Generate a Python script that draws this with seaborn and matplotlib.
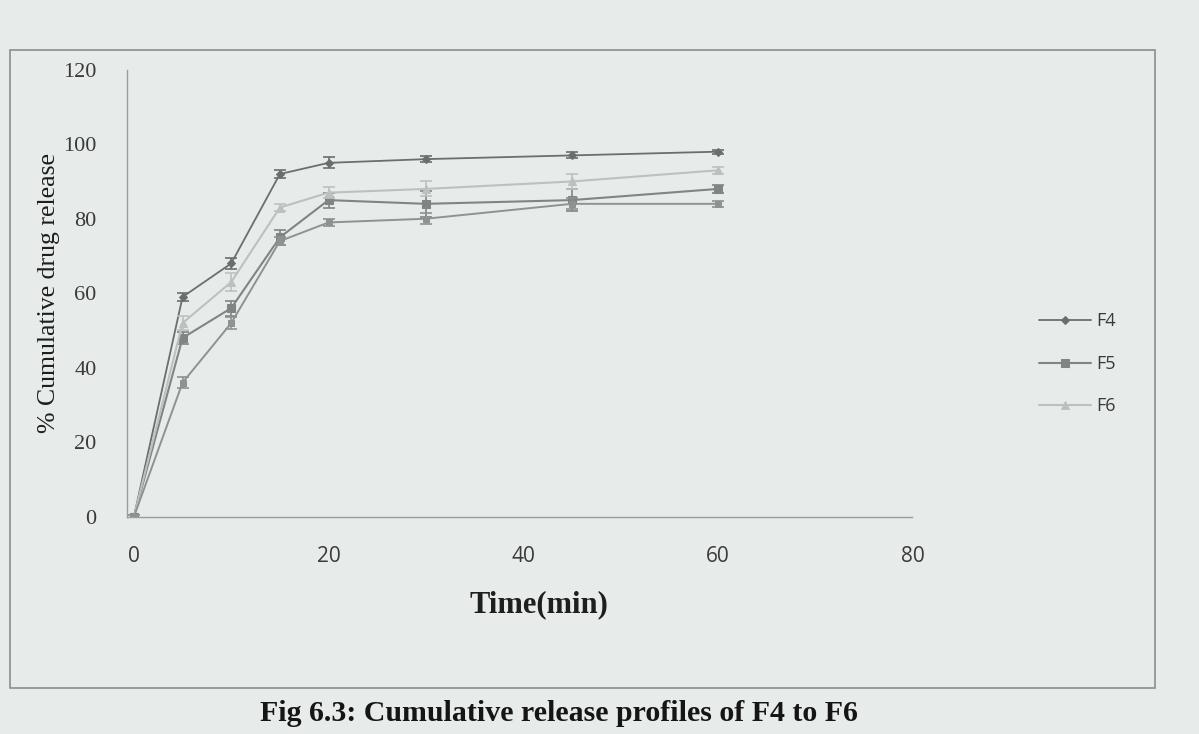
import numpy as np
import pandas as pd
import matplotlib
matplotlib.use("Agg")
import matplotlib.pyplot as plt
import seaborn as sns
from matplotlib.patches import Rectangle

# time points (min) and % cumulative drug release
time_min = [0, 5, 10, 15, 20, 30, 45, 60]
f4 = [0, 59, 68, 92, 95, 96, 97, 98]
f5 = [0, 48, 56, 75, 85, 84, 85, 88]
f6 = [0, 52, 63, 83, 87, 88, 90, 93]
f_low = [0, 36, 52, 74, 79, 80, 84, 84]   # fourth trace, not in the legend

f4_err = [0.5, 1.0, 1.5, 1.0, 1.5, 0.8, 0.8, 0.5]
f5_err = [0.5, 1.5, 2.0, 2.0, 2.0, 3.5, 3.0, 1.0]
f6_err = [0.5, 2.0, 2.5, 1.0, 1.5, 2.0, 2.0, 1.0]
low_err = [0.5, 1.5, 1.5, 1.0, 1.0, 1.5, 1.5, 0.8]

series_names = ["F4", "F5", "F6", "_low"]
x_ticks = [0, 20, 40, 60, 80]
y_ticks = [0, 20, 40, 60, 80, 100, 120]

bg = "#e7ebe9"
sns.set_theme(style="white")
plt.rcParams["font.family"] = ["Liberation Serif", "DejaVu Serif"]

fig = plt.figure(figsize=(11.99, 7.34), dpi=100, facecolor=bg)
ax = fig.add_axes([0.106, 0.296, 0.655, 0.609], facecolor=bg)

df = pd.DataFrame({
    "time": time_min * 4,
    "release": f4 + f5 + f6 + f_low,
    "err": f4_err + f5_err + f6_err + low_err,
    "series": sum([[n] * len(time_min) for n in series_names], []),
})

styles = {
    "F4": dict(color="#6a6e6d", marker="D", ms=4, lw=1.3),
    "F5": dict(color="#808483", marker="s", ms=6, lw=1.5),
    "F6": dict(color="#bcc0bf", marker="^", ms=6, lw=1.5),
    "_low": dict(color="#8e9291", marker="s", ms=5, lw=1.4),
}

for name in series_names:
    sub = df[df["series"] == name]
    st = styles[name]
    sns.lineplot(data=sub, x="time", y="release", ax=ax, color=st["color"],
                 marker=st["marker"], markersize=st["ms"], linewidth=st["lw"],
                 markeredgecolor=st["color"], label=name if not name.startswith("_") else "_nolegend_")
    ax.errorbar(sub["time"], sub["release"], yerr=sub["err"], fmt="none",
                ecolor=st["color"], elinewidth=1.2, capsize=4, capthick=1.2)

ax.set_xlim(-0.7, 79.3)
ax.set_ylim(0, 120)
ax.set_xticks(x_ticks)
ax.set_yticks(y_ticks)
ax.set_xticklabels([str(t) for t in x_ticks], family=["Open Sans", "DejaVu Sans"],
                   fontsize=15, color="#3a3a3a")
ax.set_yticklabels([str(t) for t in y_ticks], fontsize=16, color="#3a3a3a")
ax.tick_params(axis="x", pad=21, length=0)
ax.tick_params(axis="y", pad=22, length=0)

for side in ["top", "right"]:
    ax.spines[side].set_visible(False)
ax.spines["left"].set_color("#9a9e9d")
ax.spines["bottom"].set_color("#9a9e9d")
ax.spines["left"].set_linewidth(1.0)
ax.spines["bottom"].set_linewidth(1.0)

ax.set_xlabel("Time(min)", fontsize=22, fontweight="bold", color="#1e1e1e")
ax.xaxis.set_label_coords(0.524, -0.165)
ax.set_ylabel("% Cumulative drug release", fontsize=18.5, color="#1e1e1e", labelpad=2)

leg = ax.legend(loc="center left", bbox_to_anchor=(1.14, 0.342), frameon=False,
                prop={"family": ["Open Sans", "DejaVu Sans"], "size": 13},
                labelcolor="#3a3a3a", handlelength=2.9, labelspacing=1.35,
                handletextpad=0.3)

# frame around the chart, as in the printed page
fig.patches.append(Rectangle((0.008, 0.062), 0.955, 0.87, transform=fig.transFigure,
                             fill=False, edgecolor="#8a8e8d", linewidth=1.2))

fig.text(0.466, 0.028, "Fig 6.3: Cumulative release profiles of F4 to F6",
         ha="center", va="center", fontsize=21.5, fontweight="bold", color="#151515")

fig.savefig("out.png", dpi=100, facecolor=bg)
